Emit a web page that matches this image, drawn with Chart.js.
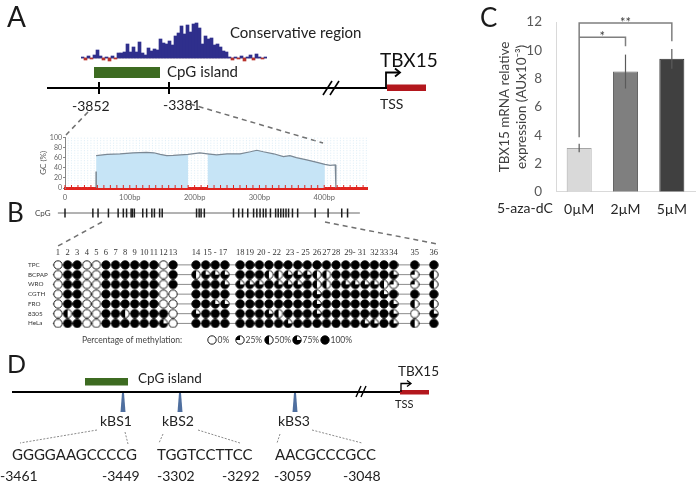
<!DOCTYPE html>
<html><head><meta charset="utf-8">
<script src="https://cdn.jsdelivr.net/npm/chart.js@4.4.1/dist/chart.umd.min.js"></script>
<style>
html,body{margin:0;padding:0;background:#fff;}
#wrap{position:relative;width:700px;height:485px;overflow:hidden;font-family:Lato,"Open Sans",sans-serif;color:#1a1a1a;}
canvas{position:absolute;}
.t{position:absolute;white-space:nowrap;line-height:1;}
</style></head><body>
<div id="wrap">
<canvas id="diag" width="700" height="485" style="left:0;top:0;width:700px;height:485px"></canvas>
<canvas id="cons" width="186" height="44" style="left:81px;top:18px;width:186px;height:44px"></canvas>
<canvas id="gc" width="345" height="95" style="left:30px;top:130px;width:345px;height:95px"></canvas>
<canvas id="meth" width="450" height="105" style="left:0;top:245px;width:450px;height:105px"></canvas>
<canvas id="expr" width="230" height="230" style="left:470px;top:0;width:230px;height:230px"></canvas>

<div class="t" style="left:7px;top:2px;font-size:28px">A</div>
<div class="t" style="left:230px;top:24.5px;font-size:15px;color:#222">Conservative region</div>
<div class="t" style="left:167px;top:64px;font-size:15px;color:#222">CpG island</div>
<div class="t" style="left:380px;top:50px;font-size:19px;color:#111">TBX15</div>
<div class="t" style="left:72px;top:99px;font-size:14px;color:#222">-3852</div>
<div class="t" style="left:163px;top:98px;font-size:14px;color:#222">-3381</div>
<div class="t" style="left:380px;top:96.5px;font-size:14px;color:#222">TSS</div>
<div class="t" style="left:7px;top:198.6px;font-size:26px">B</div>
<div class="t" style="left:480px;top:4px;font-size:26px">C</div>
<div class="t" style="left:497px;top:201px;font-size:14px;color:#262626">5-aza-dC</div>
<div class="t" style="left:7px;top:351px;font-size:25px">D</div>
<div class="t" style="left:138px;top:371.8px;font-size:13.5px;color:#222">CpG island</div>
<div class="t" style="left:398px;top:365px;font-size:13.5px;color:#222">TBX15</div>
<div class="t" style="left:395px;top:398px;font-size:11px;color:#222">TSS</div>
<div class="t" style="left:100px;top:414.3px;font-size:14px;color:#222">kBS1</div>
<div class="t" style="left:162px;top:414.3px;font-size:14px;color:#222">kBS2</div>
<div class="t" style="left:278px;top:414.3px;font-size:14px;color:#222">kBS3</div>
<div class="t" style="left:12px;top:446.5px;font-size:15px;color:#222">GGGGAAGCCCCG</div>
<div class="t" style="left:157px;top:446.5px;font-size:15px;color:#222">TGGTCCTTCC</div>
<div class="t" style="left:275px;top:446.5px;font-size:15px;color:#222">AACGCCCGCC</div>
<div class="t" style="left:0px;top:469.3px;font-size:14px;color:#222">-3461</div>
<div class="t" style="left:102px;top:469.3px;font-size:14px;color:#222">-3449</div>
<div class="t" style="left:157px;top:469.3px;font-size:14px;color:#222">-3302</div>
<div class="t" style="left:222px;top:469.3px;font-size:14px;color:#222">-3292</div>
<div class="t" style="left:274px;top:469.3px;font-size:14px;color:#222">-3059</div>
<div class="t" style="left:343px;top:469.3px;font-size:14px;color:#222">-3048</div>
</div>
<script>
// ---------- DATA ----------
// Panel C: TBX15 expression after 5-aza-dC
const doseLabels = ['0µM', '2µM', '5µM'];
const expr = [3.1, 8.5, 9.4];
const exprErr = [0.3, 1.2, 0.7];
const exprTicks = [0, 2, 4, 6, 8, 10, 12];
const sigMarks = ['**', '*'];
const sigFrom = [0, 0];
const sigTo = [2, 1];
const sigLevel = [11.93, 10.93];
const sigLeftEnd = [3.86, null];
const sigRightEnd = [10.65, 10.3];

// Panel A: conservation track (arbitrary score)
const consValues = [1,-2,2,-1,3,8,2,-2,1,-3,2,-1,5,5,6,14,6,11,6,16,5,3,10,7,9,8,19,15,14,17,13,22,25,32,24,33,26,34,35,30,14,22,19,20,13,14,11,7,6,1,-2,1,-1,2,-3,1,3,-2,4,1,-1,1];

// Panel B: GC content (%) along the region (bp)
const gcPos = [48,65,85,105,126,137,147,157,167,190,208,220,234,250,270,286,296,306,322,337,347,357,373,389,401,409,417,418];
const gcVal = [64.5,67,68,70,71,70,67,64.5,65,67,70,68,66,68,68,72,75,72,68,62.5,64.5,60.5,56,51,47,45,46,0];
const islandStart = [48, 220];
const islandEnd = [190, 401];
const gcTicks = [0, 100, 200, 300, 400];
const gcYTicks = [0, 20, 40, 60, 80, 100];
// CpG site positions (bp)
const cpgPos = [0,43,51,67,82,90,95,102,104,107,120,126,134,138,146,150,203,207,210,215,260,268,274,282,291,296,301,306,310,317,325,329,333,337,341,345,351,359,386,406,427,436];

// Panel B: methylation (%) of 36 CpG sites per cell line
const cellLines = ['TPC', 'BCPAP', 'WRO', 'CGTH', 'FRO', '8305', 'HeLa'];
const methTPC   = [0,100,100,0,0,100,100,100,100,100,100,0,100, 100,100,100,100, 100,100,100,100,100,100,100,100,100,100,100,100,100,100,100,100,100, 100,100];
const methBCPAP = [0,100,100,0,0,100,100,100,100,100,100,0,100, 50,75,75,75, 100,100,100,50,50,75,75,75,50,50,100,100,100,100,100,100,75, 25,50];
const methWRO   = [0,100,100,0,0,100,100,100,100,100,100,0,100, 100,100,100,75, 75,75,75,100,75,75,75,100,50,50,100,75,75,75,75,50,25, 25,50];
const methCGTH  = [0,100,100,0,0,100,100,100,100,100,100,0,0, 100,100,100,100, 100,100,100,100,100,100,100,100,75,100,100,100,100,100,100,75,100, 100,100];
const methFRO   = [0,100,100,0,0,100,100,100,100,100,100,0,0, 100,100,75,75, 100,100,100,100,100,100,100,100,75,100,100,100,100,100,100,100,75, 50,50];
const meth8305  = [0,50,100,0,0,100,100,50,100,100,100,100,0, 75,100,100,100, 100,100,100,75,50,100,100,100,75,100,100,100,100,100,100,100,75, 0,75];
const methHeLa  = [0,100,100,0,0,100,100,100,100,100,100,75,0, 100,100,100,100, 100,100,100,100,100,75,100,100,100,100,100,100,100,75,75,100,75, 50,100];
const methRows = [methTPC, methBCPAP, methWRO, methCGTH, methFRO, meth8305, methHeLa];
const siteHeaderText = ['1','2','3','4','5','6','7','8','9','10','11','12','13','14','15 - 17','18','19','20 - 22','23 - 25','26','27','28','29- 31','32','33','34','35','36'];
const siteHeaderCol  = [1,2,3,4,5,6,7,8,9,10,11,12,13,14,16,18,19,21,24,26,27,28,30,32,33,34,35,36];
const legendLevels = [0, 25, 50, 75, 100];

// ---------- COMMON ----------
Chart.defaults.font.family = 'Lato';
const base = {responsive:false, animation:false, plugins:{legend:{display:false}, tooltip:{enabled:false}}};

// ---------- DIAGRAM (schematics of panels A, B, D) ----------
const diagramPlugin = {
  id:'diagram',
  afterDraw(chart){
    const {ctx, scales:{x, y}} = chart;
    const X = v => x.getPixelForValue(v), Y = v => y.getPixelForValue(v);
    const line = (pts, color, w, dash) => {
      ctx.save(); ctx.beginPath(); ctx.strokeStyle = color; ctx.lineWidth = w; ctx.setLineDash(dash || []);
      ctx.lineJoin = 'miter';
      pts.forEach((p, i) => i ? ctx.lineTo(X(p[0]), Y(p[1])) : ctx.moveTo(X(p[0]), Y(p[1])));
      ctx.stroke(); ctx.restore();
    };
    const rect = (x0, y0, x1, y1, c) => { ctx.fillStyle = c; ctx.fillRect(X(x0), Y(y0), X(x1) - X(x0), Y(y1) - Y(y0)); };
    // Panel A
    line([[47,88],[387,88]], '#000', 2);
    line([[323,95],[332,81]], '#000', 1.6);
    line([[330,95],[339,81]], '#000', 1.6);
    line([[99,82],[99,94]], '#000', 2);
    line([[169,82],[169,94]], '#000', 2);
    rect(94, 67, 160, 78, '#3d6b21');
    rect(387, 84.5, 426, 91, '#b3171d');
    line([[386,88],[386,72.5],[399,72.5]], '#000', 1.8);
    line([[395,68.5],[400,72.5],[395,76.5]], '#000', 1.8);
    line([[88,112],[66,135]], '#707070', 1.5, [5,4]);
    line([[190,104],[323,143]], '#707070', 1.5, [5,4]);
    // Panel B connectors
    line([[102,222],[58,246]], '#707070', 1.5, [5,4]);
    line([[325,222],[437,244]], '#707070', 1.5, [5,4]);
    // Panel D
    line([[12,392],[400,392]], '#000', 2);
    line([[356,397],[361,386]], '#000', 1.4);
    line([[361,397],[366,386]], '#000', 1.4);
    rect(85, 378, 128, 385.5, '#3d6b21');
    rect(400, 390, 429, 394.5, '#b3171d');
    line([[401,392],[401,383.5],[410,383.5]], '#000', 1.3);
    line([[407,380.5],[411,383.5],[407,386.5]], '#000', 1.3);
    [123, 180, 295].forEach(k => {
      ctx.beginPath();
      ctx.moveTo(X(k-1), Y(393)); ctx.lineTo(X(k+1), Y(393)); ctx.lineTo(X(k+2.5), Y(412)); ctx.lineTo(X(k-2.5), Y(412));
      ctx.closePath(); ctx.fillStyle = '#4f6f9f'; ctx.fill();
    });
    const dc = '#8a8a8a';
    line([[97,430],[20,443]], dc, 1, [2,1.5]);
    line([[125,432],[128,444]], dc, 1, [2,1.5]);
    line([[163,434],[159,443]], dc, 1, [2,1.5]);
    line([[198,430],[240,443]], dc, 1, [2,1.5]);
    line([[280,434],[277,443]], dc, 1, [2,1.5]);
    line([[312,430],[362,443]], dc, 1, [2,1.5]);
  }
};
new Chart(document.getElementById('diag'), {
  type:'scatter', data:{datasets:[]},
  options:{...base, layout:{padding:0},
    scales:{x:{type:'linear', min:0, max:700, display:false}, y:{type:'linear', min:0, max:485, reverse:true, display:false}}},
  plugins:[diagramPlugin]
});

// ---------- CONSERVATION TRACK ----------
new Chart(document.getElementById('cons'), {
  type:'bar',
  data:{labels:consValues.map((_, i) => i), datasets:[{data:consValues,
    backgroundColor:consValues.map(v => v >= 0 ? '#2f2f8c' : '#b8322c'), borderWidth:0, barPercentage:1, categoryPercentage:1}]},
  options:{...base, layout:{padding:0}, scales:{x:{display:false}, y:{display:false, min:-4, max:40}}},
  plugins:[{id:'consBase', beforeDatasetsDraw(chart){
    const {ctx, chartArea, scales:{y}} = chart;
    ctx.save(); ctx.strokeStyle = '#b7a4a8'; ctx.lineWidth = 0.8;
    ctx.beginPath(); ctx.moveTo(chartArea.left, y.getPixelForValue(0)); ctx.lineTo(chartArea.right, y.getPixelForValue(0)); ctx.stroke(); ctx.restore();
  }}]
});

// ---------- GC CONTENT + CpG TRACK ----------
const inIsland = p => islandStart.some((s, i) => p >= s && p <= islandEnd[i]);
const gcLine = gcPos.map((p, i) => ({x:p, y:gcVal[i]}));
const gcFill = gcPos.map((p, i) => ({x:p, y: inIsland(p) ? gcVal[i] : null}));
const gcPlugin = {
  id:'gcExtras',
  beforeDatasetsDraw(chart){
    const {ctx, chartArea:a, scales:{x}} = chart;
    ctx.save(); ctx.strokeStyle = 'rgba(160,205,232,0.55)'; ctx.lineWidth = 0.7; ctx.setLineDash([1,1.5]);
    for (let b = 5; b < 466; b += 5) { const px = x.getPixelForValue(b); ctx.beginPath(); ctx.moveTo(px, a.top); ctx.lineTo(px, a.bottom); ctx.stroke(); }
    ctx.restore();
  },
  afterDraw(chart){
    const {ctx, chartArea:a, scales:{x, y}} = chart;
    ctx.save();
    ctx.strokeStyle = '#5f6c78'; ctx.lineWidth = 1.2;
    ctx.beginPath(); ctx.moveTo(x.getPixelForValue(gcPos[0]), y.getPixelForValue(0)); ctx.lineTo(x.getPixelForValue(gcPos[0]), y.getPixelForValue(33)); ctx.stroke();
    ctx.strokeStyle = '#e0231e'; ctx.lineWidth = 1;
    for (let b = 0; b <= 460; b += 10) { const px = x.getPixelForValue(b); ctx.beginPath(); ctx.moveTo(px, a.bottom - 3); ctx.lineTo(px, a.bottom); ctx.stroke(); }
    const ty = 83;
    ctx.strokeStyle = '#666'; ctx.lineWidth = 1;
    ctx.beginPath(); ctx.moveTo(x.getPixelForValue(-11), ty); ctx.lineTo(x.getPixelForValue(455), ty); ctx.stroke();
    ctx.strokeStyle = '#1e1e1e'; ctx.lineWidth = 1.5;
    cpgPos.forEach(p => { const px = x.getPixelForValue(p); ctx.beginPath(); ctx.moveTo(px, ty - 4.5); ctx.lineTo(px, ty + 4.5); ctx.stroke(); });
    ctx.fillStyle = '#444'; ctx.font = '8px Lato'; ctx.textBaseline = 'middle'; ctx.textAlign = 'left';
    ctx.fillText('CpG', 5, ty);
    ctx.restore();
  }
};
new Chart(document.getElementById('gc'), {
  type:'line',
  data:{datasets:[
    {data:gcLine, borderColor:'#7b8894', borderWidth:1.2, pointRadius:0, fill:false, tension:0},
    {data:gcFill, borderWidth:0, borderColor:'rgba(0,0,0,0)', backgroundColor:'#c6e4f6', pointRadius:0, fill:'origin', spanGaps:false, tension:0}
  ]},
  options:{...base, layout:{padding:{top:7.7, right:8, left:0, bottom:0}},
    scales:{
      x:{type:'linear', min:0, max:466, afterBuildTicks(s){ s.ticks = gcTicks.map(v => ({value:v})); },
        ticks:{callback:v => v === 0 ? '0' : v + 'bp', font:{size:7.5}, color:'#666', padding:5, maxRotation:0, autoSkip:false},
        grid:{display:false, drawTicks:false}, border:{color:'#e0231e', width:3}, afterFit(s){ s.height = 37; }},
      y:{min:0, max:100, afterBuildTicks(s){ s.ticks = gcYTicks.map(v => ({value:v})); },
        ticks:{font:{size:7}, color:'#666', padding:1, autoSkip:false},
        grid:{display:true, drawOnChartArea:false, drawTicks:true, tickLength:2, color:'#888'},
        border:{color:'#888', width:1},
        title:{display:true, text:'GC (%)', font:{size:8}, color:'#555', padding:{top:8.2, bottom:0}},
        afterFit(s){ s.width = 35; }}
    }},
  plugins:[gcPlugin]
});

// ---------- METHYLATION MATRIX ----------
const glyph = {};
legendLevels.forEach(p => {
  const c = document.createElement('canvas'); c.width = 10; c.height = 10;
  const g = c.getContext('2d'); const cx = 5, cy = 5, r = 4.2;
  g.beginPath(); g.arc(cx, cy, r, 0, Math.PI * 2); g.fillStyle = p === 100 ? '#000' : '#fff'; g.fill();
  if (p > 0 && p < 100) {
    g.beginPath(); g.moveTo(cx, cy); g.arc(cx, cy, r, -Math.PI / 2, -Math.PI / 2 - p / 100 * 2 * Math.PI, true); g.closePath();
    g.fillStyle = '#000'; g.fill();
  }
  g.beginPath(); g.arc(cx, cy, r, 0, Math.PI * 2); g.strokeStyle = '#000'; g.lineWidth = 0.9; g.stroke();
  glyph[p] = c;
});
function slotOf(col){ let s = col - 1; if (col > 13) s += 1.4; if (col > 17) s += 0.6; if (col > 34) s += 1.2; if (col > 35) s += 1.0; return s; }
const methPlugin = {
  id:'methExtras',
  beforeDatasetsDraw(chart){
    const {ctx, scales:{x, y}} = chart;
    ctx.save(); ctx.strokeStyle = '#8c8c8c'; ctx.lineWidth = 1;
    cellLines.forEach((_, r) => { const py = y.getPixelForValue(r); ctx.beginPath(); ctx.moveTo(x.getPixelForValue(-0.55), py); ctx.lineTo(x.getPixelForValue(slotOf(36)), py); ctx.stroke(); });
    ctx.restore();
  },
  afterDraw(chart){
    const {ctx, scales:{x}} = chart;
    ctx.save();
    ctx.fillStyle = '#333'; ctx.font = '8.5px "Liberation Serif"'; ctx.textAlign = 'center'; ctx.textBaseline = 'middle';
    siteHeaderText.forEach((t, i) => ctx.fillText(t, x.getPixelForValue(slotOf(siteHeaderCol[i])), 7.5));
    ctx.textAlign = 'left'; ctx.font = '8.5px Lato'; ctx.fillStyle = '#444';
    ctx.fillText('Percentage of methylation:', 82, 95);
    const lx = [212, 240, 269, 297, 325];
    legendLevels.forEach((p, i) => { ctx.drawImage(glyph[p], lx[i] - 5, 90); ctx.fillText(p + '%', lx[i] + 5.5, 95); });
    ctx.restore();
  }
};
new Chart(document.getElementById('meth'), {
  type:'scatter',
  data:{datasets:methRows.map((row, r) => ({
    data:row.map((m, c) => ({x:slotOf(c + 1), y:r, m})),
    pointStyle:ctx => glyph[ctx.raw ? ctx.raw.m : 0], pointRadius:4.5, pointHoverRadius:4.5
  }))},
  options:{...base, layout:{padding:{left:28, right:5, top:15, bottom:21.7}},
    scales:{
      x:{type:'linear', display:false, min:-0.833, max:40.31},
      y:{type:'linear', min:-0.5, max:6.5, reverse:true,
        afterBuildTicks(s){ s.ticks = cellLines.map((_, i) => ({value:i})); },
        ticks:{callback:v => cellLines[v], font:{size:6.3}, color:'#333', crossAlign:'far', padding:0, autoSkip:false},
        grid:{display:false, drawTicks:false}, border:{display:false}, afterFit(s){ s.width = 22; }}
    }},
  plugins:[methPlugin]
});

// ---------- PANEL C ----------
const exprPlugin = {
  id:'exprMarks',
  afterDatasetsDraw(chart){
    const {ctx, scales:{x, y}} = chart;
    ctx.save();
    ctx.strokeStyle = '#5a5a5a'; ctx.lineWidth = 1.2;
    expr.forEach((v, i) => {
      const px = x.getPixelForValue(i);
      ctx.beginPath(); ctx.moveTo(px, y.getPixelForValue(v - exprErr[i])); ctx.lineTo(px, y.getPixelForValue(v + exprErr[i])); ctx.stroke();
    });
    ctx.strokeStyle = '#7f7f7f'; ctx.lineWidth = 1.5;
    sigMarks.forEach((mk, k) => {
      const x0 = x.getPixelForValue(sigFrom[k]), x1 = x.getPixelForValue(sigTo[k]), py = y.getPixelForValue(sigLevel[k]);
      ctx.beginPath();
      if (sigLeftEnd[k] !== null) { ctx.moveTo(x0, y.getPixelForValue(sigLeftEnd[k])); ctx.lineTo(x0, py); } else { ctx.moveTo(x0, py); }
      ctx.lineTo(x1, py); ctx.lineTo(x1, y.getPixelForValue(sigRightEnd[k])); ctx.stroke();
      ctx.fillStyle = '#404040'; ctx.font = '13px Lato'; ctx.textAlign = 'center'; ctx.textBaseline = 'alphabetic';
      ctx.fillText(mk, (x0 + x1) / 2, py + 3.8);
    });
    ctx.restore();
  }
};
new Chart(document.getElementById('expr'), {
  type:'bar',
  data:{labels:doseLabels, datasets:[{data:expr,
    backgroundColor:['#d9d9d9', '#7f7f7f', '#404040'], borderColor:['#a6a6a6', '#666666', '#2e2e2e'], borderWidth:1,
    barPercentage:0.54, categoryPercentage:1}]},
  options:{...base, layout:{padding:{top:20.7, right:5, left:0, bottom:0}},
    scales:{
      x:{grid:{display:false, drawTicks:false}, border:{color:'#d9d9d9', width:1},
        ticks:{font:{size:14}, color:'#262626', padding:9}, afterFit(s){ s.height = 38.3; }},
      y:{min:0, max:12, afterBuildTicks(s){ s.ticks = exprTicks.map(v => ({value:v})); },
        ticks:{font:{size:13.5}, color:'#595959', padding:14, autoSkip:false},
        grid:{display:false, drawTicks:false}, border:{color:'#d9d9d9', width:1},
        title:{display:true, text:['TBX15 mRNA relative', 'expression (AUx10⁻³)'], font:{size:13.5}, color:'#404040', padding:{top:27, bottom:0}},
        afterFit(s){ s.width = 86; }}
    }},
  plugins:[exprPlugin]
});
</script>
</body></html>
